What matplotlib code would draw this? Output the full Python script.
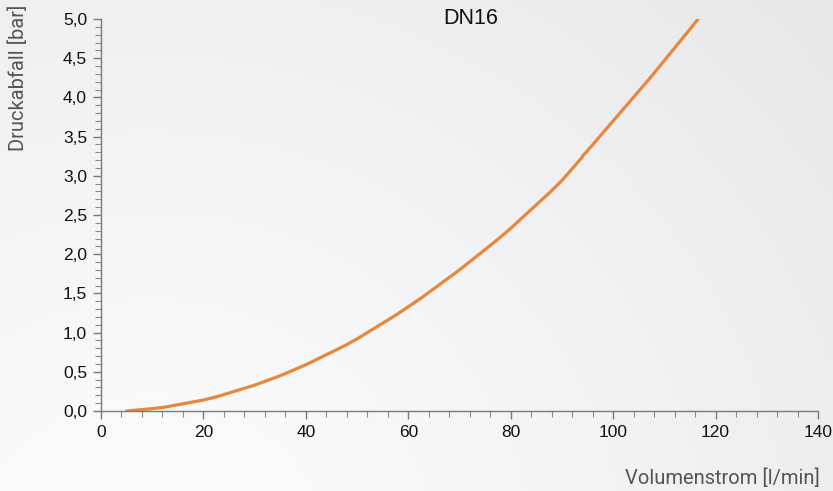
import numpy as np
import matplotlib
matplotlib.use("Agg")
import matplotlib.pyplot as plt
from matplotlib.ticker import MultipleLocator, FuncFormatter

plt.rcParams["font.family"] = ["Liberation Sans", "DejaVu Sans"]

# Data
flow = [5, 7.5, 10, 12.5, 15, 17.5, 20, 22.5, 25, 27.5, 30, 32.5, 35, 37.5, 40, 42.5, 45, 47.5,
        50, 52.5, 55, 57.5, 60, 62.5, 65, 67.5, 70, 72.5, 75, 77.5, 80, 82.5, 85, 87.5, 90, 92, 94]
drop = [0.0, 0.015, 0.03, 0.05, 0.08, 0.11, 0.14, 0.18, 0.23, 0.28, 0.33, 0.39, 0.45, 0.52, 0.59,
        0.67, 0.75, 0.83, 0.92, 1.02, 1.12, 1.22, 1.33, 1.44, 1.56, 1.68, 1.80, 1.93, 2.06, 2.19,
        2.33, 2.48, 2.63, 2.78, 2.94, 3.09, 3.24]
flow2 = [94, 95, 97.5, 100, 102.5, 105, 107.5, 110, 112.5, 115, 116.6]
drop2 = [3.25, 3.32, 3.51, 3.70, 3.89, 4.08, 4.27, 4.47, 4.67, 4.87, 5.0]

title = "DN16"
xlabel = "Volumenstrom [l/min]"
ylabel = "Druckabfall [bar]"

W, H = 833, 491
fig = plt.figure(figsize=(W / 100, H / 100), dpi=100)

# background gradient
bg = fig.add_axes([0, 0, 1, 1], zorder=-10)
yy, xx = np.mgrid[0:H, 0:W]
d = np.sqrt((xx - 150.0) ** 2 + ((yy - 560.0) * 1.1) ** 2)
d = d / d.max()
v = 251 - 20 * d ** 1.3
img = np.dstack([v, v + 0.5, v + 2]) / 255.0
img = np.clip(img, 0, 1)
bg.imshow(img, aspect="auto", extent=[0, 1, 0, 1], origin="upper")
bg.axis("off")

ax = fig.add_axes([101 / W, 1 - 411 / H, (818 - 101) / W, (411 - 19) / H])
ax.patch.set_alpha(0)
color = "#E8873A"
ax.plot(flow, drop, color=color, lw=2.3, solid_capstyle="round", solid_joinstyle="round")
ax.plot(flow2, drop2, color=color, lw=2.3, solid_capstyle="round", solid_joinstyle="round")

ax.set_xlim(0, 140)
ax.set_ylim(0, 5)
ax.xaxis.set_major_locator(MultipleLocator(20))
ax.xaxis.set_minor_locator(MultipleLocator(4))
ax.yaxis.set_major_locator(MultipleLocator(0.5))
ax.yaxis.set_minor_locator(MultipleLocator(0.1))
ax.yaxis.set_major_formatter(FuncFormatter(lambda v, p: f"{v:.1f}".replace(".", ",")))

for s in ["top", "right"]:
    ax.spines[s].set_visible(False)
for s in ["left", "bottom"]:
    ax.spines[s].set_color("#7a7a7a")
    ax.spines[s].set_linewidth(1.0)

ax.tick_params(which="major", length=6, width=1.0, color="#7a7a7a", labelsize=12.5,
               labelcolor="#111111", pad=4)
ax.tick_params(which="minor", length=4, width=0.8, color="#8a8a8a")

fig.text(471 / W, 1 - 18 / H, title, ha="center", va="center", fontsize=15.5,
         color="#111111")

lab_font = ["Roboto", "DejaVu Sans"]
fig.text(18 / W, 1 - 5 / H, ylabel, rotation=90, ha="center", va="top", fontsize=14.5,
         family=lab_font, color="#555555")
fig.text(820 / W, 1 - 478 / H, xlabel, ha="right", va="center", fontsize=14.5,
         family=lab_font, color="#555555")

fig.savefig("out.png", dpi=100)
